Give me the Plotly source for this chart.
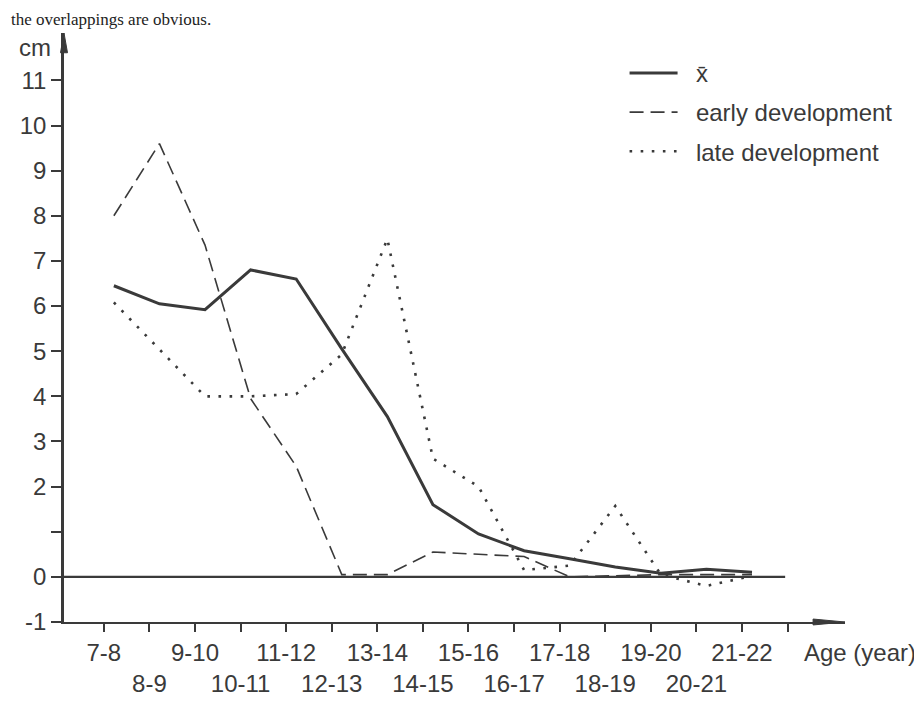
import plotly.graph_objects as go

# ---------------- data ----------------
categories = ["7-8", "8-9", "9-10", "10-11", "11-12", "12-13", "13-14", "14-15",
              "15-16", "16-17", "17-18", "18-19", "19-20", "20-21", "21-22"]
mean_vals = [6.45, 6.05, 5.92, 6.8, 6.6, 5.05, 3.55, 1.6, 0.95, 0.58, 0.4, 0.22, 0.08, 0.17, 0.1]
early_vals = [8.0, 9.6, 7.35, 3.95, 2.45, 0.05, 0.05, 0.55, 0.5, 0.45, 0.0, 0.02, 0.05, 0.05, 0.05]
late_vals = [6.08, 5.05, 4.0, 4.0, 4.05, 4.93, 7.49, 2.62, 2.0, 0.15, 0.25, 1.57, 0.05, -0.2, 0.02]

y_tick_vals = [-1, 0, 1, 2, 3, 4, 5, 6, 7, 8, 9, 10, 11]
y_tick_text = ["-1", "0", "", "2", "3", "4", "5", "6", "7", "8", "9", "10", "11"]

series_names = ["x\u0304", "early development", "late development"]

# ---------------- styling ----------------
INK = "#3a3a3a"
FONT = "Liberation Sans, Arial, sans-serif"
FS = 24
PAD = "\u00a0\u00a0"

x_idx = list(range(len(categories)))
tick_pos = [i - 0.22 for i in range(len(categories) + 1)]
tick_txt = [(c if i % 2 == 0 else "<br>" + c) for i, c in enumerate(categories)] + [""]

fig = go.Figure()
fig.add_trace(go.Scatter(x=x_idx, y=mean_vals, mode="lines", name=PAD + series_names[0],
                         legendgroup="a",
                         line=dict(color=INK, width=3)))
fig.add_trace(go.Scatter(x=x_idx, y=early_vals, mode="lines", name=PAD + series_names[1],
                         legendgroup="b",
                         line=dict(color=INK, width=1.6, dash="14px,7px")))
fig.add_trace(go.Scatter(x=x_idx, y=late_vals, mode="lines", name=PAD + series_names[2],
                         legendgroup="c",
                         line=dict(color=INK, width=2.6, dash="2.6px,8.5px")))

W, H = 922, 701
L, R, T, B = 54, 85, 25, 80
pw, ph = W - L - R, H - T - B

shapes = [
    # zero reference line
    dict(type="line", xref="paper", yref="y", x0=0, x1=(777 - L) / pw, y0=0, y1=0,
         line=dict(color=INK, width=2.2)),
    # x-axis extension to the left of y-axis
    dict(type="line", xref="paper", yref="paper", x0=-13 / pw, x1=0, y0=0, y1=0,
         line=dict(color=INK, width=2)),
    # y-axis arrowhead
    dict(type="path", xref="paper", yref="paper",
         path=f"M 0 1 L {-3.5/pw} {1-20/ph} L {3.5/pw} {1-20/ph} Z",
         fillcolor=INK, line=dict(color=INK, width=1)),
    # x-axis arrowhead
    dict(type="path", xref="paper", yref="paper",
         path=f"M 1 0 L {1-32/pw} {3/ph} L {1-32/pw} {-3/ph} Z",
         fillcolor=INK, line=dict(color=INK, width=1)),
]

annotations = [
    dict(text="cm", xref="paper", yref="paper", x=(25 - L) / pw, y=(T + ph - 40) / ph,
         showarrow=False, xanchor="center", yanchor="middle",
         font=dict(family=FONT, size=FS, color=INK)),
    dict(text="Age (year)", xref="paper", yref="paper", x=(852 - L) / pw, y=-(652 - (T + ph)) / ph,
         showarrow=False, xanchor="center", yanchor="middle",
         font=dict(family=FONT, size=FS, color=INK)),
    dict(text="the overlappings are obvious.", xref="paper", yref="paper",
         x=-L / pw, y=(T + ph - 1) / ph, showarrow=False, xanchor="left", yanchor="top",
         borderpad=0,
         font=dict(family="Liberation Serif, serif", size=17, color="#222222")),
]

fig.update_layout(
    width=W, height=H,
    margin=dict(l=L, r=R, t=T, b=B, pad=0),
    paper_bgcolor="white", plot_bgcolor="white",
    font=dict(family=FONT, size=FS, color=INK),
    showlegend=True,
    legend=dict(x=(616 - L) / pw, y=(T + ph - 43) / ph, xanchor="left", yanchor="top",
                bgcolor="rgba(0,0,0,0)", font=dict(family=FONT, size=FS, color=INK),
                tracegroupgap=5, itemwidth=48),
    shapes=shapes,
    annotations=annotations,
)
fig.update_xaxes(range=[-1.094, 16.04], tickmode="array", tickvals=tick_pos, ticktext=tick_txt,
                 tickangle=0,
                 showgrid=False, zeroline=False, showline=True, linecolor=INK, linewidth=2,
                 ticks="outside", ticklen=8, tickwidth=1.5, tickcolor=INK,
                 tickfont=dict(family=FONT, size=FS, color=INK))
fig.update_yaxes(range=[-1, 12.05], tickmode="array", tickvals=y_tick_vals, ticktext=y_tick_text,
                 showgrid=False, zeroline=False, showline=True, linecolor=INK, linewidth=2.5,
                 ticks="outside", ticklen=10, tickwidth=1.5, tickcolor=INK,
                 tickfont=dict(family=FONT, size=FS, color=INK))

fig.write_html("out.html")
